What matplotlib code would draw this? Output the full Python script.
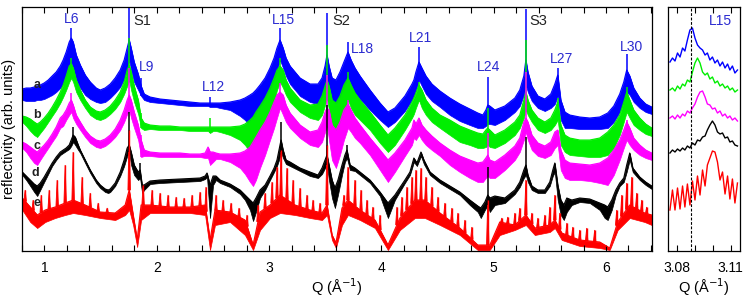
import numpy as np
import matplotlib
matplotlib.use("Agg")
import matplotlib.pyplot as plt
from matplotlib.ticker import MultipleLocator

plt.rcParams['font.family'] = ['Liberation Sans', 'DejaVu Sans']

# ---- main panel data: Q (1/A) and reflectivity (arb. units, stacked) ----
q_abc = [
    0.802, 0.837, 0.873, 0.908, 0.935, 0.962, 0.997, 1.033, 1.068, 1.104,
    1.140, 1.166, 1.193, 1.220, 1.238, 1.255, 1.282, 1.318, 1.362, 1.407,
    1.460, 1.496, 1.540, 1.585, 1.629, 1.674, 1.709, 1.736, 1.754, 1.771,
    1.798, 1.834, 1.860, 1.887, 1.940, 2.029, 2.118, 2.207, 2.296, 2.385,
    2.430, 2.456, 2.474, 2.501, 2.527, 2.563, 2.652, 2.741, 2.785, 2.830,
    2.857, 2.883, 2.919, 2.964, 3.008, 3.044, 3.070, 3.097, 3.124, 3.150,
    3.186, 3.275, 3.364, 3.435, 3.471, 3.498, 3.515, 3.533, 3.560, 3.595,
    3.631, 3.666, 3.702, 3.729, 3.764, 3.809, 3.898, 3.987, 4.058, 4.120,
    4.209, 4.272, 4.289, 4.307, 4.334, 4.360, 4.396, 4.449, 4.521, 4.609,
    4.698, 4.787, 4.858, 4.903, 4.930, 4.947, 4.965, 5.010, 5.099, 5.188,
    5.232, 5.268, 5.286, 5.304, 5.339, 5.393, 5.455, 5.508, 5.544, 5.570,
    5.597, 5.633, 5.677, 5.766, 5.855, 5.944, 6.015, 6.069, 6.122, 6.158,
    6.184, 6.211, 6.246, 6.300, 6.353, 6.407]

# curve a (blue): upper / lower edge of the fringe band
a_top = [
    162, 163, 163, 164, 165, 166, 168, 171, 175, 179,
    185, 191, 199, 209, 213, 209, 196, 186, 176, 169,
    163, 161, 163, 167, 173, 181, 191, 203, 211, 203,
    189, 177, 165, 157, 154, 152, 151, 150, 149, 148,
    148, 148, 148, 148, 148, 148, 149, 151, 153, 156,
    158, 161, 166, 173, 183, 193, 203, 211, 203, 193,
    185, 173, 167, 167, 173, 185, 196, 185, 173, 171,
    179, 189, 199, 191, 183, 175, 161, 148, 139, 143,
    155, 167, 171, 179, 189, 183, 175, 167, 160, 153,
    147, 142, 138, 136, 141, 146, 145, 141, 145, 153,
    161, 175, 191, 179, 165, 155, 152, 157, 167, 176,
    151, 139, 136, 134, 133, 134, 138, 145, 157, 169,
    181, 175, 163, 153, 147, 144]
a_bot = [
    151, 150, 150, 150, 151, 151, 152, 154, 156, 159,
    163, 167, 173, 181, 189, 183, 171, 163, 156, 152,
    149, 148, 149, 153, 158, 164, 172, 181, 191, 181,
    169, 161, 155, 151, 149, 148, 147, 146, 145, 145,
    145, 145, 144, 144, 144, 143, 141, 135, 131, 125,
    123, 126, 133, 143, 156, 169, 181, 191, 183, 175,
    167, 155, 149, 147, 151, 161, 171, 159, 143, 137,
    147, 159, 171, 165, 158, 152, 141, 131, 124, 129,
    140, 151, 155, 161, 171, 165, 157, 150, 144, 136,
    130, 126, 123, 123, 125, 127, 127, 126, 131, 139,
    145, 156, 166, 159, 150, 143, 140, 143, 147, 155,
    131, 123, 123, 122, 122, 122, 123, 129, 139, 149,
    159, 156, 149, 143, 139, 137]

# curve b (green)
b_top = [
    135, 134, 132, 129, 127, 129, 133, 138, 144, 151,
    159, 166, 175, 185, 187, 183, 171, 161, 151, 144,
    140, 139, 141, 145, 151, 159, 169, 181, 186, 179,
    165, 151, 133, 128, 126, 125, 125, 124, 124, 124,
    124, 124, 124, 124, 124, 124, 124, 125, 127, 131,
    134, 139, 145, 153, 163, 173, 181, 185, 181, 171,
    163, 151, 146, 147, 155, 165, 171, 165, 151, 148,
    155, 166, 173, 166, 158, 151, 139, 126, 116, 123,
    136, 149, 153, 158, 166, 161, 151, 143, 136, 131,
    125, 121, 118, 117, 121, 123, 121, 116, 121, 129,
    136, 151, 159, 151, 141, 133, 129, 133, 141, 149,
    126, 116, 113, 111, 111, 113, 119, 126, 136, 149,
    159, 151, 141, 133, 127, 123]
b_bot = [
    129, 125, 120, 116, 114, 118, 123, 129, 135, 141,
    148, 154, 161, 169, 173, 169, 159, 151, 143, 136,
    132, 131, 133, 137, 142, 149, 157, 165, 171, 161,
    149, 137, 123, 121, 122, 121, 121, 121, 120, 120,
    120, 120, 118, 120, 120, 119, 116, 111, 106, 99,
    96, 101, 111, 123, 136, 149, 161, 169, 163, 156,
    149, 139, 133, 131, 136, 146, 153, 141, 121, 113,
    123, 136, 151, 143, 136, 131, 121, 108, 99, 106,
    121, 133, 137, 143, 151, 143, 136, 129, 123, 116,
    109, 106, 103, 103, 104, 106, 104, 103, 108, 116,
    123, 133, 141, 136, 129, 121, 118, 121, 126, 131,
    106, 99, 96, 95, 94, 94, 96, 103, 116, 129,
    139, 133, 126, 121, 117, 115]

# curve c (magenta)
c_top = [
    109, 107, 104, 101, 99, 102, 106, 111, 117, 124,
    133, 136, 141, 148, 151, 146, 136, 129, 121, 115,
    111, 110, 112, 116, 122, 131, 141, 151, 156, 151,
    139, 126, 111, 101, 99, 98, 98, 98, 97, 97,
    98, 104, 99, 99, 98, 97, 97, 98, 100, 104,
    109, 114, 121, 129, 139, 149, 156, 159, 156, 146,
    138, 126, 119, 121, 129, 139, 143, 141, 126, 121,
    129, 141, 147, 141, 133, 126, 113, 101, 91, 98,
    111, 123, 131, 127, 133, 126, 121, 115, 108, 101,
    95, 91, 88, 89, 93, 96, 91, 89, 96, 105,
    113, 129, 133, 129, 116, 108, 105, 109, 119, 121,
    101, 91, 88, 87, 86, 88, 93, 101, 111, 121,
    129, 123, 113, 106, 101, 98]
c_bot = [
    103, 99, 93, 88, 86, 91, 97, 103, 109, 115,
    123, 125, 131, 136, 139, 133, 127, 121, 114, 108,
    104, 103, 105, 109, 114, 121, 129, 137, 141, 133,
    123, 111, 94, 95, 95, 94, 94, 94, 94, 94,
    93, 93, 86, 89, 92, 92, 89, 83, 77, 69,
    65, 71, 83, 96, 111, 123, 133, 143, 136, 129,
    123, 113, 106, 104, 109, 119, 126, 111, 91, 83,
    96, 111, 123, 119, 113, 108, 96, 81, 69, 79,
    95, 106, 113, 111, 116, 111, 106, 101, 95, 86,
    79, 73, 69, 69, 73, 75, 73, 73, 81, 91,
    99, 111, 119, 111, 101, 95, 93, 96, 103, 106,
    81, 73, 71, 71, 70, 68, 66, 76, 91, 103,
    111, 106, 101, 96, 93, 91]

# curve d (black)
q_d = [
    0.802, 0.837, 0.873, 0.908, 0.935, 0.962, 0.997, 1.033, 1.068, 1.104,
    1.140, 1.166, 1.193, 1.220, 1.238, 1.255, 1.273, 1.300, 1.318, 1.362,
    1.407, 1.460, 1.496, 1.540, 1.567, 1.585, 1.629, 1.674, 1.709, 1.736,
    1.754, 1.771, 1.798, 1.834, 1.851, 1.869, 1.887, 1.940, 2.029, 2.207,
    2.385, 2.430, 2.447, 2.474, 2.501, 2.527, 2.563, 2.652, 2.741, 2.785,
    2.830, 2.857, 2.883, 2.919, 2.964, 3.008, 3.044, 3.070, 3.088, 3.106,
    3.124, 3.150, 3.186, 3.275, 3.364, 3.435, 3.471, 3.498, 3.515, 3.533,
    3.560, 3.586, 3.613, 3.649, 3.675, 3.693, 3.720, 3.764, 3.809, 3.898,
    3.987, 4.058, 4.120, 4.209, 4.254, 4.289, 4.316, 4.352, 4.378, 4.432,
    4.521, 4.609, 4.698, 4.787, 4.858, 4.885, 4.921, 4.947, 4.965, 5.010,
    5.099, 5.188, 5.232, 5.268, 5.286, 5.304, 5.339, 5.393, 5.455, 5.499,
    5.526, 5.544, 5.570, 5.597, 5.624, 5.651, 5.695, 5.766, 5.855, 5.944,
    5.988, 6.015, 6.051, 6.087, 6.122, 6.158, 6.184, 6.211, 6.238, 6.300,
    6.353, 6.407]
d_top = [
    79, 75, 71, 67, 65, 68, 74, 81, 88, 94,
    99, 101, 103, 106, 111, 116, 114, 106, 101, 91,
    81, 71, 66, 62, 61, 62, 68, 79, 91, 103,
    106, 99, 86, 79, 81, 66, 66, 70, 71, 72,
    73, 75, 78, 66, 75, 75, 71, 67, 61, 56,
    51, 48, 53, 61, 66, 75, 83, 91, 101, 111,
    101, 91, 89, 83, 79, 76, 83, 91, 96, 86,
    71, 63, 71, 86, 96, 101, 86, 83, 79, 71,
    59, 48, 56, 71, 79, 93, 88, 99, 91, 79,
    71, 65, 59, 51, 45, 43, 49, 56, 53, 55,
    53, 61, 69, 81, 86, 76, 65, 61, 61, 69,
    81, 88, 66, 51, 46, 53, 51, 53, 52, 48,
    46, 44, 51, 61, 68, 73, 86, 98, 83, 74,
    69, 65]
d_bot = [
    76, 71, 65, 59, 55, 61, 69, 77, 85, 91,
    96, 98, 100, 102, 105, 109, 106, 101, 98, 88,
    78, 68, 63, 59, 58, 59, 65, 75, 85, 95,
    99, 86, 76, 71, 73, 58, 61, 67, 68, 69,
    70, 72, 74, 33, 66, 71, 68, 64, 57, 51,
    41, 30, 39, 53, 61, 71, 79, 85, 91, 99,
    93, 87, 85, 80, 75, 73, 77, 83, 86, 71,
    53, 43, 56, 76, 89, 93, 81, 80, 76, 68,
    55, 33, 51, 68, 76, 89, 85, 95, 87, 76,
    68, 62, 56, 46, 39, 33, 41, 46, 39, 46,
    48, 57, 64, 73, 76, 69, 61, 58, 58, 65,
    75, 79, 51, 36, 31, 39, 46, 49, 48, 41,
    33, 31, 41, 56, 65, 69, 79, 91, 79, 71,
    66, 62]

# curve e (red): dense fringe band
q_eb = [
    0.802, 0.873, 0.935, 1.006, 1.095, 1.184, 1.255, 1.362, 1.496, 1.629,
    1.718, 1.754, 1.789, 1.825, 1.860, 1.940, 2.118, 2.296, 2.430, 2.474,
    2.518, 2.652, 2.785, 2.857, 2.919, 3.008, 3.097, 3.231, 3.364, 3.471,
    3.515, 3.560, 3.595, 3.649, 3.702, 3.809, 3.942, 4.058, 4.165, 4.298,
    4.387, 4.521, 4.698, 4.858, 4.965, 5.054, 5.188, 5.286, 5.366, 5.499,
    5.544, 5.606, 5.766, 5.944, 6.033, 6.104, 6.211, 6.344, 6.407]
eb_top = [
    53, 44, 36, 41, 44, 48, 51, 46, 39, 38,
    46, 61, 36, 11, 46, 46, 44, 44, 46, 11,
    41, 39, 31, 6, 39, 46, 56, 46, 41, 38,
    46, 16, 8, 43, 51, 41, 31, 6, 33, 51,
    51, 38, 23, 6, 6, 29, 26, 36, 23, 26,
    31, 18, 11, 9, 3, 29, 46, 38, 36]
eb_bot = [
    41, 29, 23, 29, 33, 36, 38, 36, 33, 31,
    36, 41, 26, 4, 31, 38, 38, 38, 36, 1,
    26, 29, 16, 1, 21, 33, 38, 36, 33, 31,
    36, 11, 3, 26, 36, 31, 23, 1, 21, 33,
    33, 26, 16, 1, 1, 16, 21, 26, 16, 19,
    23, 11, 5, 3, 1, 21, 33, 29, 26]
# curve e fringe maxima (Q, height)
e_pk_q = [
    0.828, 0.899, 0.971, 1.042, 1.113, 1.184, 1.255, 1.335, 1.407, 1.478,
    1.558, 1.629, 1.754, 1.878, 1.958, 2.029, 2.100, 2.172, 2.243, 2.314,
    2.385, 2.438, 2.527, 2.590, 2.661, 2.732, 2.803, 2.901, 2.964, 3.026,
    3.070, 3.106, 3.159, 3.213, 3.275, 3.337, 3.391, 3.453, 3.515, 3.666,
    3.702, 3.764, 3.818, 3.871, 3.924, 3.987, 4.138, 4.182, 4.227, 4.272,
    4.307, 4.352, 4.396, 4.449, 4.503, 4.565, 4.627, 4.681, 4.743, 4.805,
    4.947, 5.072, 5.125, 5.188, 5.232, 5.286, 5.339, 5.393, 5.455, 5.499,
    5.544, 5.588, 5.651, 5.704, 5.766, 5.828, 5.899, 6.095, 6.140, 6.184,
    6.229, 6.273, 6.318, 6.362]
e_pk = [
    61, 51, 56, 61, 71, 86, 99, 74, 58, 48,
    43, 38, 121, 66, 61, 58, 56, 54, 53, 56,
    59, 64, 56, 51, 48, 43, 36, 46, 58, 69,
    84, 101, 83, 71, 63, 56, 51, 48, 106, 56,
    84, 71, 61, 51, 44, 36, 44, 54, 64, 74,
    81, 83, 74, 64, 54, 48, 43, 38, 31, 24,
    51, 33, 34, 38, 43, 71, 38, 33, 36, 44,
    56, 38, 28, 24, 21, 23, 21, 41, 56, 68,
    74, 58, 51, 44]

# sharp Bragg / substrate lines (Q, peak height)
a_spk_q = [1.238, 1.754, 1.860, 2.474, 3.097, 3.515, 3.702, 4.334, 4.947, 5.286, 5.570, 6.184]
a_spk = [223, 250, 173, 154, 223, 238, 209, 204, 174, 242, 183, 197]
b_spk_q = [1.238, 1.754, 1.860, 2.474, 3.097, 3.515, 3.702, 4.334, 4.947, 5.286, 5.570, 6.184]
b_spk = [193, 213, 138, 133, 193, 206, 179, 169, 143, 211, 153, 164]
c_spk_q = [1.238, 1.754, 1.860, 3.097, 3.515, 3.702, 4.947, 5.286, 6.184]
c_spk = [158, 183, 116, 168, 176, 151, 118, 179, 131]
d_spk_q = [1.255, 1.754, 1.851, 3.106, 3.515, 3.693, 4.947, 5.286]
d_spk = [124, 139, 88, 129, 146, 106, 84, 114]

peak_names = ["L6", "L9", "L12", "L15", "L18", "L21", "L24", "L27", "L30"]
peak_lab_q = [1.238, 1.905, 2.501, 3.124, 3.835, 4.352, 4.956, 5.606, 6.229]
peak_lab_y = [232, 184, 164, 231, 202, 213, 184, 192, 204]
sub_names = ["S1", "S2", "S3"]
sub_lab_q = [1.789, 3.560, 5.321]
sub_lab_y = [230, 230, 230]
curve_names = ["a", "b", "c", "d", "e"]
curve_lab_q = [0.935, 0.935, 0.935, 0.917, 0.935]
curve_lab_y = [166, 136, 105, 78, 48]

# ---- inset: fringes around L15 ----
q_in = [3.0763, 3.0777, 3.0791, 3.0805, 3.0819, 3.0833, 3.0846, 3.0860, 3.0874, 3.0888,
        3.0902, 3.0916, 3.0930, 3.0944, 3.0958, 3.0971, 3.0985, 3.0999, 3.1013, 3.1027,
        3.1041, 3.1055, 3.1069, 3.1083, 3.1096, 3.1110, 3.1124, 3.1138]
in_a = [189, 193, 190, 198, 194, 203, 200, 211, 221, 223, 213, 206, 203, 201, 196, 198,
        191, 194, 188, 191, 185, 189, 183, 187, 181, 185, 178, 181]
in_b = [161, 163, 160, 165, 162, 167, 165, 171, 169, 179, 188, 193, 188, 179, 176, 178,
        172, 174, 168, 170, 165, 167, 163, 165, 161, 163, 159, 161]
in_c = [133, 135, 132, 136, 133, 137, 135, 140, 138, 143, 147, 154, 159, 160, 154, 147,
        146, 142, 143, 138, 140, 135, 137, 133, 135, 131, 133, 130]
in_d = [98, 101, 99, 102, 100, 103, 101, 105, 103, 108, 106, 111, 110, 114, 115, 121,
        126, 130, 126, 119, 117, 118, 113, 114, 109, 110, 106, 105]
in_e = [41, 61, 41, 63, 42, 65, 44, 67, 46, 70, 51, 75, 56, 81, 65, 86,
        93, 100, 99, 89, 71, 79, 57, 75, 52, 72, 48, 68]
q_l15 = 3.0878

colors = ['#0000ff', '#00ee00', '#ff00ff', '#000000', '#ff0000']
lab_blue = '#2b2bd0'
spike_w = 0.011  # half width of a fringe cusp at its base, in Q

fig = plt.figure(figsize=(7.47, 3.01), dpi=100)
ax = fig.add_axes([0.0295, 0.1661, 0.8434, 0.8106])
ins = fig.add_axes([0.8942, 0.1661, 0.0964, 0.8106])

bands = [(q_abc, a_top, a_bot, a_spk_q, a_spk),
         (q_abc, b_top, b_bot, b_spk_q, b_spk),
         (q_abc, c_top, c_bot, c_spk_q, c_spk),
         (q_d, d_top, d_bot, d_spk_q, d_spk)]
for (q, top, bot, sq, sh), col in zip(bands, colors):
    ax.fill_between(q, bot, top, color=col, lw=0.5, edgecolor=col)
    ax.plot(q, top, color=col, lw=0.8)
    base = np.interp(sq, q, bot)
    ax.vlines(sq, base, sh, color=col, lw=1.1)

red = colors[4]
ax.fill_between(q_eb, eb_bot, eb_top, color=red, lw=0.5, edgecolor=red)
ax.plot(q_eb, eb_top, color=red, lw=0.8)
pk_base = np.interp(e_pk_q, q_eb, eb_top)
for q, h, b in zip(e_pk_q, e_pk, pk_base):
    ax.fill([q - spike_w, q, q + spike_w], [b, h, b], color=red, lw=0.6)
ax.vlines(e_pk_q, pk_base, e_pk, color=red, lw=1.0)

for n, x, y in zip(peak_names, peak_lab_q, peak_lab_y):
    ax.text(x, y, n, color=lab_blue, fontsize=10, ha='center', va='center')
for n, x, y in zip(sub_names, sub_lab_q, sub_lab_y):
    ax.text(x, y, n, color='#222222', fontsize=10.5, ha='left', va='center')
for n, x, y in zip(curve_names, curve_lab_q, curve_lab_y):
    ax.text(x, y, n, color='#222222', fontsize=9, fontweight='bold', ha='center', va='center')

ax.set_xlim(0.80, 6.41)
ax.set_ylim(0, 244)
ax.set_xticks([1, 2, 3, 4, 5, 6])
ax.xaxis.set_minor_locator(MultipleLocator(0.2))
ax.set_yticks([])
ax.tick_params(axis='x', which='both', direction='in', top=True, length=4, width=0.8,
               labelsize=10, pad=7)
ax.set_xlabel('Q (Å$^{-1}$)', fontsize=10.5, labelpad=1)

for vals, col in zip([in_a, in_b, in_c, in_d, in_e], colors):
    ins.plot(q_in, vals, color=col, lw=1.0)
ins.axvline(q_l15, color='black', ls='--', lw=0.8, dashes=(2.5, 1.5))
ins.text(3.1041, 230, 'L15', color=lab_blue, fontsize=10, ha='center', va='center')
ins.set_xlim(3.0752, 3.1152)
ins.set_ylim(0, 244)
ins.set_xticks([3.08, 3.11])
ins.set_xticklabels(['3.08', '3.11'])
ins.set_xticks([3.09, 3.10], minor=True)
ins.set_yticks([])
ins.tick_params(axis='x', which='both', direction='in', top=True, length=4, width=0.8,
                labelsize=10, pad=7)
ins.set_xlabel('Q (Å$^{-1}$)', fontsize=10.5, labelpad=1)

for a in (ax, ins):
    for s in a.spines.values():
        s.set_linewidth(0.9)

fig.text(0.0115, 0.572, 'reflectivity (arb. units)', rotation=90, fontsize=10.5,
         ha='center', va='center')

fig.savefig('out.png', dpi=100)
